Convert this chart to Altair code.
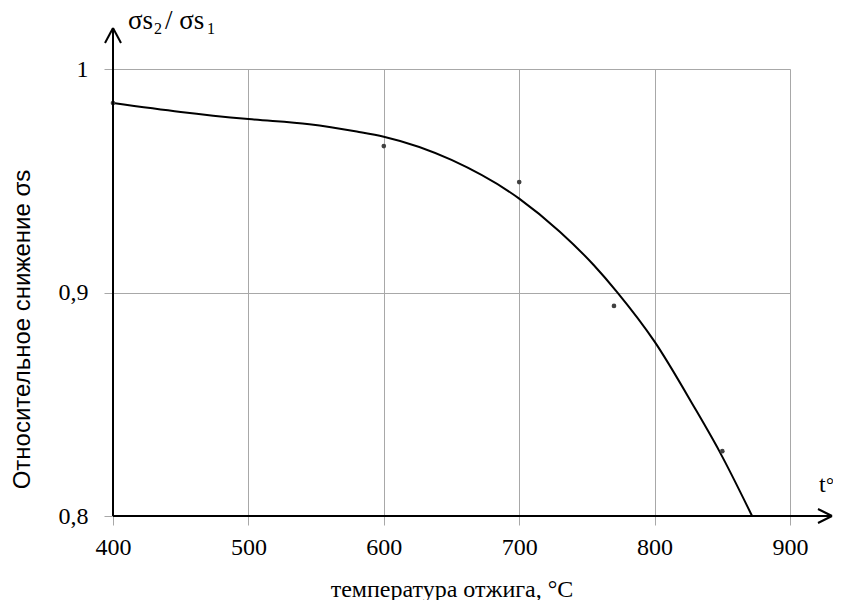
import altair as alt
import pandas as pd

# measured points
pt_t = [400, 600, 700, 770, 850]
pt_v = [0.9848, 0.9655, 0.9494, 0.894, 0.829]

# fitted curve
curve_t = [400, 450, 500, 545, 580, 600, 650, 700, 730, 755, 772, 800, 829, 848, 872]
curve_v = [0.9848, 0.9808, 0.9776, 0.9753, 0.972, 0.9697, 0.9593, 0.942, 0.9272, 0.9123,
           0.9004, 0.878, 0.849, 0.8288, 0.8]

x_ticks = [400, 500, 600, 700, 800, 900]
y_ticks = [0.8, 0.9, 1.0]

SERIF = "Liberation Serif, Times New Roman, serif"
SANS = "Liberation Sans, Arial, sans-serif"
W, H = 677, 447

xs = alt.Scale(domain=[400, 900], nice=False, zero=False)
ys = alt.Scale(domain=[0.8, 1.0], nice=False, zero=False)

curve_df = pd.DataFrame({"t": curve_t, "v": curve_v})
pt_df = pd.DataFrame({"t": pt_t, "v": pt_v})
one = pd.DataFrame({"a": [0]})

x_axis = alt.Axis(
    values=x_ticks, title="температура отжига, °C", grid=True, gridColor="#a8a8a8",
    gridWidth=1, domain=False, ticks=True, tickColor="#a8a8a8", tickSize=9,
    labelFont=SERIF, labelFontSize=24, labelColor="#000", labelPadding=10,
    labelFlush=False, labelOverlap=False,
    titleFont=SERIF, titleFontSize=24, titleFontWeight="normal", titleColor="#000",
    titleY=80, titleBaseline="alphabetic", format="d",
)
y_axis = alt.Axis(
    values=y_ticks, title="Относительное снижение σs", grid=True, gridColor="#a8a8a8",
    gridWidth=1, domain=False, ticks=True, tickColor="#a8a8a8", tickSize=9,
    labelFont=SERIF, labelFontSize=24, labelColor="#000", labelPadding=16,
    labelFlush=False, labelOverlap=False,
    labelExpr="datum.value == 1 ? '1' : replace(format(datum.value, '.1f'), '.', ',')",
    titleFont=SANS, titleFontSize=24, titleFontWeight="normal", titleColor="#000",
    titleX=-91, titleY=260, titleBaseline="middle", titleAngle=-90,
)

base = alt.Chart(curve_df).mark_line(color="#000", strokeWidth=2, interpolate="monotone").encode(
    x=alt.X("t:Q", scale=xs, axis=x_axis),
    y=alt.Y("v:Q", scale=ys, axis=y_axis),
)

points = alt.Chart(pt_df).mark_circle(color="#404040", size=22, opacity=1).encode(
    x=alt.X("t:Q", scale=xs),
    y=alt.Y("v:Q", scale=ys),
)

def seg(x1, y1, x2, y2, w=2):
    return alt.Chart(one).mark_rule(color="#000", strokeWidth=w).encode(
        x=alt.value(x1), y=alt.value(y1), x2=alt.value(x2), y2=alt.value(y2)
    )

# axis arrows
arrows = [
    seg(0, H, 0, -41),
    seg(-8, -26, 0, -41),
    seg(8, -26, 0, -41),
    seg(0, H, 719, H),
    seg(705, H - 7, 719, H),
    seg(705, H + 7, 719, H),
]

def txt(s, x, y, size, font=SERIF, align="left"):
    return alt.Chart(one).mark_text(
        text=s, font=font, fontSize=size, color="#000", align=align, baseline="alphabetic"
    ).encode(x=alt.value(x), y=alt.value(y))

labels = [
    txt("σs", 15, -40, 27),
    txt("2", 41, -35, 16),
    txt("/ σs", 52, -40, 27),
    txt("1", 94, -35, 16),
    txt("t", 706, 423, 24),
    txt("°", 713, 423, 20),
]

chart = alt.layer(base, points, *arrows, *labels).properties(
    width=W, height=H,
    autosize=alt.AutoSizeParams(type="none"),
    padding={"left": 105, "top": 61, "right": 43, "bottom": 84},
).configure_view(stroke=None).configure(background="white").configure_axis(
    labelFont=SERIF, titleFontWeight="normal"
)

chart.save("out.html", embed_options={"renderer": "svg", "actions": False})
